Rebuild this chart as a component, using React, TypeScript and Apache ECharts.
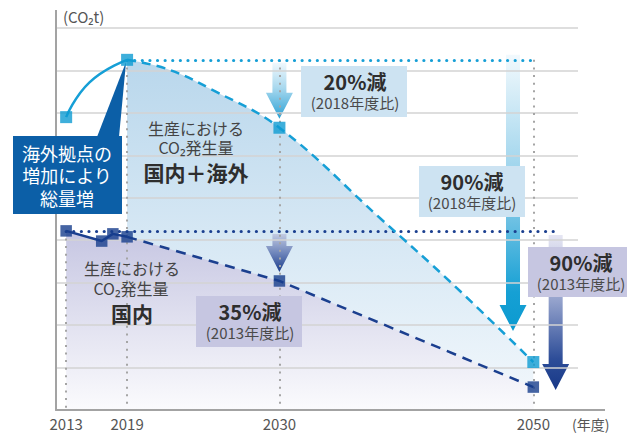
import React, { useEffect, useRef } from 'react';
import * as echarts from 'echarts';

// x positions on the timeline axis: 2013=0, 2019=6, 2030=21, 2050=46
const tickYears = ['2013', '2019', '2030', '2050'];
const tickPositions = [0, 6, 21, 46];

// 国内＋海外 (light blue)
const totalRise = [[0, 6.9], [2.3, 7.72], [6, 8.25]];
const totalTarget = [[6, 8.25], [10, 8.03], [14.5, 7.53], [21, 6.65], [31, 4.5], [38, 2.98], [46, 1.13]];
const totalMarkers = [[0, 6.9], [6, 8.25], [21, 6.65], [46, 1.13]];
const totalBase = 8.25;

// 国内 (dark blue)
const domesticPast = [[0, 4.22], [3.5, 3.98], [4.6, 4.15], [6, 4.08]];
const domesticTarget = [[6, 4.08], [21, 3.04], [46, 0.54]];
const domesticBase = 4.22;

const calloutLines = ['海外拠点の', '増加により', '総量増'];
const totalLabel = ['生産における', 'CO₂発生量', '国内＋海外'];
const domesticLabel = ['生産における', 'CO₂発生量', '国内'];
const boxTexts = [
  ['20%減', '(2018年度比)'],
  ['90%減', '(2018年度比)'],
  ['35%減', '(2013年度比)'],
  ['90%減', '(2013年度比)'],
];

export default function App() {
  const ref = useRef<HTMLDivElement>(null);
  useEffect(() => {
    const chart = echarts.init(ref.current as HTMLDivElement, null, { renderer: 'svg' });
    const font = "'Noto Sans CJK JP', 'Noto Sans', sans-serif";
    const LIGHT = '#169fd6';
    const DARK = '#1b3f8f';
    const axisColor = '#a3a3a3';
    const gridColor = '#d3d3d3';
    const domesticAll = [...domesticPast, ...domesticTarget.slice(1)];

    const option: any = {
      animation: false,
      grid: { left: 56, top: 28, right: 49, bottom: 27 },
      xAxis: {
        type: 'value', min: -1, max: 50.4, z: 3.5,
        axisLine: { show: true, onZero: false, lineStyle: { color: axisColor, width: 2 } },
        axisTick: { show: false },
        splitLine: { show: false },
        axisLabel: {
          customValues: tickPositions,
          formatter: (v: number) => {
            const i = tickPositions.indexOf(v);
            return i >= 0 ? tickYears[i] : '';
          },
          color: '#555', fontSize: 15, fontFamily: font, margin: 6,
        },
        name: '(年度)', nameLocation: 'end', nameGap: -6,
        nameTextStyle: { color: '#555', fontSize: 14, fontFamily: font, align: 'left', verticalAlign: 'top', padding: [7, 0, 0, 0] },
      },
      yAxis: {
        type: 'value', min: 0, max: 9, interval: 1, z: 3.5,
        axisLine: { show: true, onZero: false, lineStyle: { color: axisColor, width: 2 } },
        axisTick: { show: false },
        axisLabel: { show: false },
        splitLine: { show: true, lineStyle: { color: gridColor, width: 1.5 } },
        name: '(CO₂t)', nameLocation: 'end', nameGap: 12,
        nameTextStyle: { color: '#555', fontSize: 15, fontFamily: font, align: 'left', verticalAlign: 'middle', padding: [0, 0, 0, 7] },
      },
      series: [
        {
          name: 'totalArea', type: 'line', data: totalTarget, smooth: 0.4, symbol: 'none', z: 1, silent: true,
          lineStyle: { width: 0 },
          areaStyle: {
            opacity: 1,
            color: new echarts.graphic.LinearGradient(0, 0, 0, 1, [
              { offset: 0, color: '#b9d7ec' },
              { offset: 1, color: '#f3f8fc' },
            ]),
          },
        },
        {
          name: 'domesticArea', type: 'line', data: domesticAll, symbol: 'none', z: 2, silent: true,
          lineStyle: { width: 0 },
          areaStyle: {
            opacity: 1,
            color: new echarts.graphic.LinearGradient(0, 0, 0, 1, [
              { offset: 0, color: '#c6c6e2' },
              { offset: 1, color: '#fbfbfd' },
            ]),
          },
        },
        {
          name: 'guides', type: 'line', data: [], z: 4, silent: true,
          markLine: {
            z: 4, silent: true, symbol: ['none', 'none'], label: { show: false },
            emphasis: { disabled: true },
            lineStyle: { color: '#a5a5a5', width: 2, type: [2, 5.6] },
            data: [
              [{ coord: [tickPositions[0], domesticBase] }, { coord: [tickPositions[0], 0] }],
              [{ coord: [tickPositions[1], totalBase] }, { coord: [tickPositions[1], 0] }],
              [{ coord: [tickPositions[2], totalBase] }, { coord: [tickPositions[2], 0] }],
              [{ coord: [tickPositions[3], totalBase] }, { coord: [tickPositions[3], 0] }],
            ],
          },
        },
        {
          name: 'totalRise', type: 'line', data: totalRise, smooth: 0.5, symbol: 'none', z: 5, silent: true,
          lineStyle: { color: LIGHT, width: 2.5 },
        },
        {
          name: 'totalTarget', type: 'line', data: totalTarget, smooth: 0.4, symbol: 'none', z: 5, silent: true,
          lineStyle: { color: LIGHT, width: 2.5, type: [9, 6] },
          markLine: {
            z: 5, silent: true, symbol: ['none', 'none'], label: { show: false },
            emphasis: { disabled: true },
            lineStyle: { color: LIGHT, width: 3.2, type: [0.01, 7.6], cap: 'round' },
            data: [[{ coord: [6, totalBase] }, { coord: [46.2, totalBase] }]],
          },
        },
        {
          name: 'domesticPast', type: 'line', data: domesticPast, symbol: 'none', z: 5, silent: true,
          lineStyle: { color: DARK, width: 2.5 },
        },
        {
          name: 'domesticTarget', type: 'line', data: domesticTarget, symbol: 'none', z: 5, silent: true,
          lineStyle: { color: DARK, width: 2.5, type: [10, 7] },
          markLine: {
            z: 5, silent: true, symbol: ['none', 'none'], label: { show: false },
            emphasis: { disabled: true },
            lineStyle: { color: DARK, width: 3.2, type: [0.01, 7.6], cap: 'round' },
            data: [[{ coord: [0, domesticBase] }, { coord: [48.4, domesticBase] }]],
          },
        },
        {
          name: 'totalMarkers', type: 'scatter', data: totalMarkers, symbol: 'rect', symbolSize: 12, z: 8, silent: true,
          itemStyle: { color: '#0e9bd2' },
        },
        {
          name: 'domesticMarkers', type: 'scatter', data: domesticAll, symbol: 'rect', symbolSize: 11.5, z: 8, silent: true,
          itemStyle: { color: '#163d8c' },
        },
      ],
    };
    chart.setOption(option);

    const px = (x: number, y: number) => chart.convertToPixel({ gridIndex: 0 }, [x, y]) as number[];
    const yOf = (v: number) => px(0, v)[1];
    const xOf = (v: number) => px(v, 0)[0];

    const arrow = (cx: number, yTop: number, yTip: number, stops: [number, string][], z: number) => {
      const sw = 7, hw = 13.5, hl = 26;
      const yh = yTip - hl;
      return {
        type: 'polygon', z, silent: true,
        shape: { points: [[cx - sw, yTop], [cx + sw, yTop], [cx + sw, yh], [cx + hw, yh], [cx, yTip], [cx - hw, yh], [cx - sw, yh]] },
        style: { fill: new echarts.graphic.LinearGradient(0, 0, 0, 1, stops.map(([offset, color]) => ({ offset, color }))) },
      };
    };

    const text = (x: number, y: number, s: string, size: number, color: string, bold = false, z = 9) => ({
      type: 'text', x, y, z, silent: true,
      style: {
        text: s, fill: color, fontSize: size, fontFamily: font, fontWeight: bold ? 'bold' : 'normal',
        align: 'center', verticalAlign: 'middle', textAlign: 'center', textVerticalAlign: 'middle',
      },
    });

    const box = (x: number, y: number, w: number, h: number, fill: string, lines: string[], cx: number) => [
      { type: 'rect', z: 6, silent: true, shape: { x, y, width: w, height: h }, style: { fill } },
      text(cx, y + 15, lines[0], 20, '#2e2e2e', true),
      text(cx, y + 36, lines[1], 15, '#4a4a4a'),
    ];

    const gx0 = xOf(-1), gx1 = xOf(50.4), gy0 = yOf(0), gyTop = yOf(9);
    const peak = px(6, totalBase);

    const graphic: any[] = [
      // axis extensions
      { type: 'line', z: 3.5, silent: true, shape: { x1: gx0, y1: gyTop, x2: gx0, y2: 10 }, style: { stroke: axisColor, lineWidth: 2 } },
      { type: 'line', z: 3.5, silent: true, shape: { x1: gx1, y1: gy0, x2: 605, y2: gy0 }, style: { stroke: axisColor, lineWidth: 2 } },
      // arrows
      arrow(xOf(21), yOf(totalBase) + 3, yOf(6.65) - 9, [[0, '#f0f8fd'], [0.45, '#a8d8ee'], [1, '#2aa1d5']], 3),
      arrow(xOf(21), yOf(domesticBase) + 3, yOf(3.04) - 9, [[0, '#c3cbe2'], [0.5, '#6f86bb'], [1, '#1c3d8c']], 3),
      arrow(xOf(44), yOf(totalBase) - 5, yOf(1.13) - 31, [[0, '#f2f9fd'], [0.5, '#8ecde9'], [0.86, '#16a0d4'], [1, '#0b9ad0']], 3),
      arrow(xOf(48.2), yOf(domesticBase) + 4, yOf(0.54) + 3, [[0, '#e6e6f3'], [0.4, '#9aa7cf'], [0.8, '#2d4d98'], [1, '#173887']], 3),
      // boxes
      ...box(301, 66, 106, 51, '#cde3f2', boxTexts[0], 355),
      ...box(419, 166, 106, 51, '#cde3f2', boxTexts[1], 472),
      ...box(196, 296, 106, 51, '#c6c6e1', boxTexts[2], 250),
      ...box(528, 247, 110, 50, '#c6c6e1', boxTexts[3], 581),
      // callout
      { type: 'polygon', z: 6, silent: true, shape: { points: [[97, 137], [119, 137], [peak[0] - 1, peak[1] + 2]] }, style: { fill: '#0c5fa7' } },
      { type: 'rect', z: 6, silent: true, shape: { x: 13, y: 136, width: 109, height: 78 }, style: { fill: '#0c5fa7' } },
      text(67, 153, calloutLines[0], 18, '#ffffff'),
      text(67, 175, calloutLines[1], 18, '#ffffff'),
      text(67, 198, calloutLines[2], 18, '#ffffff'),
      // labels
      text(196, 128, totalLabel[0], 16, '#444'),
      text(196, 147, totalLabel[1], 16, '#444'),
      text(196, 172, totalLabel[2], 21, '#2e2e2e', true),
      text(132, 268, domesticLabel[0], 16, '#444'),
      text(131, 288, domesticLabel[1], 16, '#444'),
      text(132, 313, domesticLabel[2], 21, '#2e2e2e', true),
    ];
    chart.setOption({ graphic });

    return () => chart.dispose();
  }, []);
  return <div ref={ref} style={{ width: 627, height: 437, position: 'absolute', left: 0, top: 0 }} />;
}
